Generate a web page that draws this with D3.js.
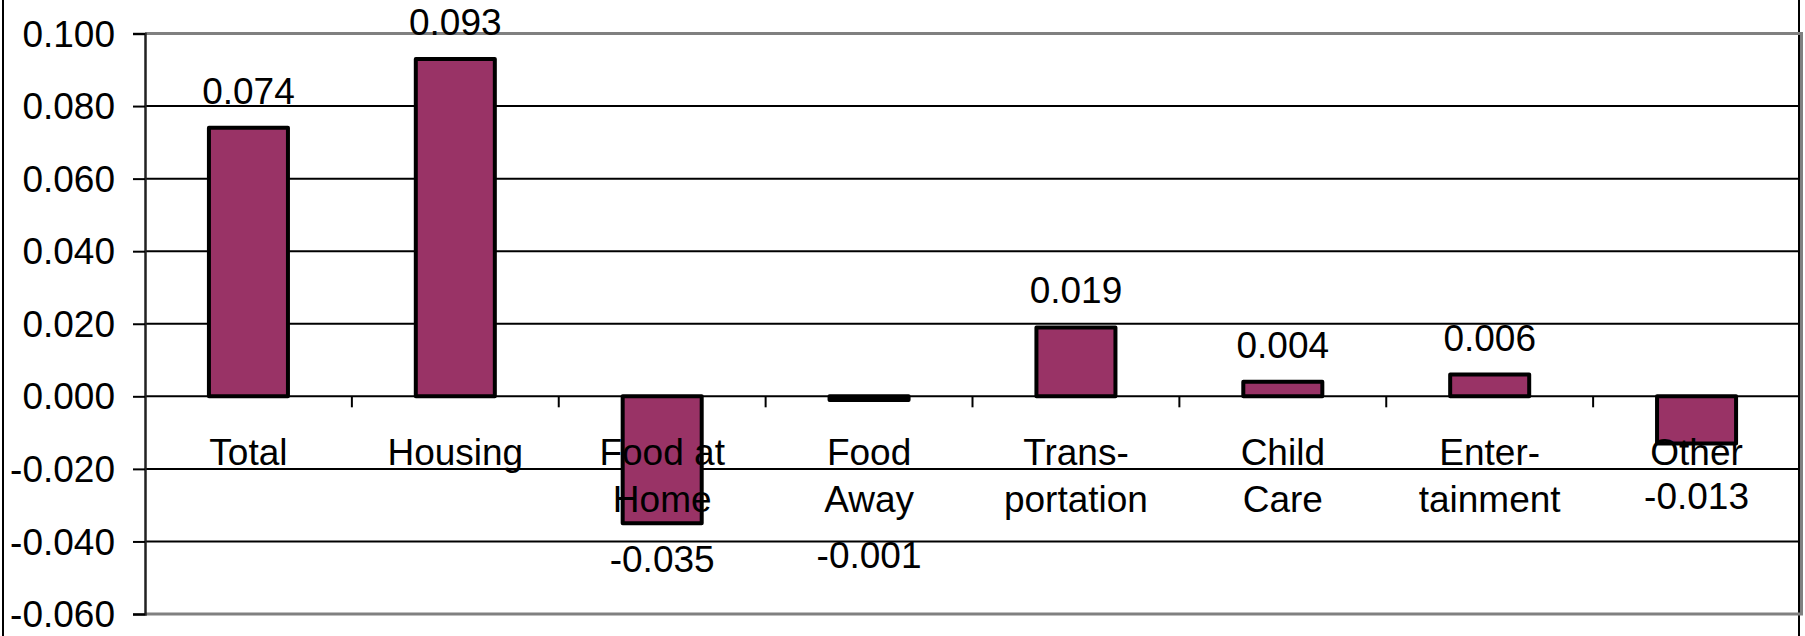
<!DOCTYPE html>
<html>
<head>
<meta charset="utf-8">
<script src="https://cdn.jsdelivr.net/npm/d3@7"></script>
<style>
  body { margin: 0; background: #fff; }
  text { font-family: "Liberation Sans", Arial, sans-serif; fill: #000; }
</style>
</head>
<body>
<div id="chart"></div>
<script>
// data
var categories = ["Total", "Housing", "Food at Home", "Food Away", "Transportation", "Child Care", "Entertainment", "Other"];
var categoryLines = [["Total"], ["Housing"], ["Food at", "Home"], ["Food", "Away"], ["Trans-", "portation"], ["Child", "Care"], ["Enter-", "tainment"], ["Other"]];
var values = [0.074, 0.093, -0.035, -0.001, 0.019, 0.004, 0.006, -0.013];
var valueLabels = ["0.074", "0.093", "-0.035", "-0.001", "0.019", "0.004", "0.006", "-0.013"];
var yTicks = [-0.06, -0.04, -0.02, 0, 0.02, 0.04, 0.06, 0.08, 0.1];

var width = 1805, height = 636;
var plot = {left: 145, right: 1800, top: 33.5, bottom: 614};
var fontSize = 37;
var lineHeight = 46.7;

var svg = d3.select("#chart").append("svg")
    .attr("width", width)
    .attr("height", height);

var x = d3.scaleBand()
    .domain(categories)
    .range([plot.left, plot.right])
    .padding(0);

var y = d3.scaleLinear()
    .domain([-0.06, 0.1])
    .range([plot.bottom, plot.top]);

// outer chart border
svg.append("rect")
    .attr("x", 3).attr("y", -10)
    .attr("width", 1796).attr("height", height + 20)
    .attr("fill", "none")
    .attr("stroke", "#000")
    .attr("stroke-width", 2);

// gridlines
svg.append("g")
    .selectAll("line")
    .data(yTicks.filter(function(d){ return d > -0.06 && d < 0.1; }))
    .enter().append("line")
    .attr("x1", plot.left).attr("x2", plot.right)
    .attr("y1", function(d){ return y(d); })
    .attr("y2", function(d){ return y(d); })
    .attr("stroke", "#000")
    .attr("stroke-width", 2);

// grey plot border (top, right, bottom)
svg.append("path")
    .attr("d", "M" + plot.left + "," + plot.top + "H" + (plot.right + 1.5) + "V" + plot.bottom + "H" + plot.left)
    .attr("fill", "none")
    .attr("stroke", "#808080")
    .attr("stroke-width", 3);

// y axis
var yAxis = d3.axisLeft(y)
    .tickValues(yTicks)
    .tickSize(12)
    .tickPadding(18)
    .tickFormat(d3.format(".3f"));

var yg = svg.append("g")
    .attr("transform", "translate(" + plot.left + ",0)")
    .call(yAxis);
yg.select(".domain").attr("stroke", "#222").attr("stroke-width", 2.5);
yg.selectAll(".tick line").attr("stroke", "#000").attr("stroke-width", 2);
yg.selectAll(".tick text")
    .style("font-size", fontSize + "px")
    .style("font-family", "'Liberation Sans', Arial, sans-serif")
    .attr("fill", "#000")
    .attr("dy", "0.34em")
    .text(function(d){ return d3.format(".3f")(d).replace("−", "-"); });

// category ticks hanging below the zero line
svg.append("g")
    .selectAll("line")
    .data(categories.slice(1))
    .enter().append("line")
    .attr("x1", function(d){ return x(d); })
    .attr("x2", function(d){ return x(d); })
    .attr("y1", y(0))
    .attr("y2", y(0) + 11)
    .attr("stroke", "#000")
    .attr("stroke-width", 2);

// bars
var barW = x.bandwidth() * 0.382;
svg.append("g")
    .selectAll("rect")
    .data(values)
    .enter().append("rect")
    .attr("x", function(d, i){ return x(categories[i]) + (x.bandwidth() - barW) / 2; })
    .attr("y", function(d){ return y(Math.max(0, d)); })
    .attr("width", barW)
    .attr("height", function(d){ return Math.abs(y(d) - y(0)); })
    .attr("fill", "#993366")
    .attr("stroke", "#000")
    .attr("stroke-width", 4)
    .attr("stroke-linejoin", "round");

// category labels
var catBase = 465;
var cats = svg.append("g")
    .selectAll("text")
    .data(categoryLines)
    .enter().append("text")
    .attr("text-anchor", "middle")
    .style("font-size", fontSize + "px");
cats.selectAll("tspan")
    .data(function(d, i){ return d.map(function(t){ return {t: t, i: i}; }); })
    .enter().append("tspan")
    .attr("x", function(d){ return x(categories[d.i]) + x.bandwidth() / 2; })
    .attr("y", function(d, j){ return catBase + j * lineHeight; })
    .text(function(d){ return d.t; });

// value labels: above positive bars, below negative bars and clear of the category text
svg.append("g")
    .selectAll("text")
    .data(values)
    .enter().append("text")
    .attr("text-anchor", "middle")
    .style("font-size", fontSize + "px")
    .attr("x", function(d, i){ return x(categories[i]) + x.bandwidth() / 2; })
    .attr("y", function(d, i){
        if (d >= 0) return y(d) - 24;
        var below = y(d) + 49;
        var underCat = catBase + 44 + (categoryLines[i].length - 1) * 59;
        return Math.max(below, underCat);
    })
    .text(function(d, i){ return valueLabels[i]; });
</script>
</body>
</html>
